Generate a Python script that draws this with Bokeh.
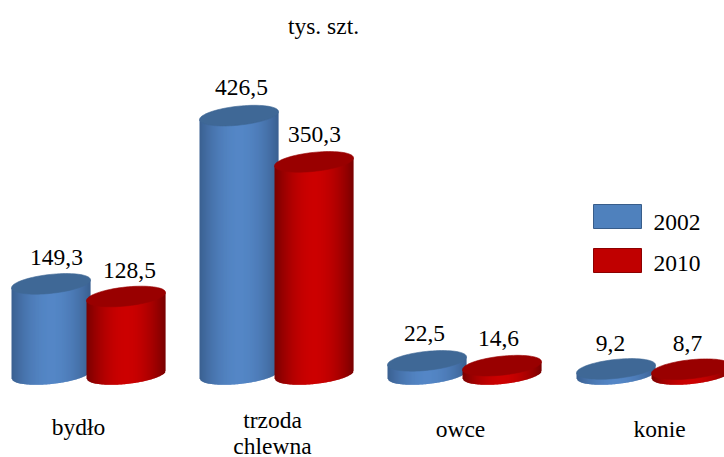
import numpy as np
from bokeh.plotting import figure
from bokeh.models import Range1d
from bokeh.core.properties import value
from bokeh.embed import file_html
from bokeh.resources import INLINE

categories = ["bydło", "trzoda\nchlewna", "owce", "konie"]
series_names = ["2002", "2010"]
values_2002 = [149.3, 426.5, 22.5, 9.2]
values_2010 = [128.5, 350.3, 14.6, 8.7]
value_labels_2002 = ["149,3", "426,5", "22,5", "9,2"]
value_labels_2010 = ["128,5", "350,3", "14,6", "8,7"]
unit_label = "tys. szt."

# layout, all in reference pixels
W, H = 724, 457
FONT = "Liberation Serif"
FS = "23.5px"
TEXT_DY = -8
BASE_PX = 374.0
K = 0.607              # pixels per unit
LEFT0 = [11, 199, 387, 576]
OFFS, BW = 75, 79
RX, RY, TILT = BW / 2, 9.5, np.deg2rad(5.8)
LABEL_CX = [[56, 129], [241, 314], [424, 498], [610, 687]]
LABEL_BASE_PX = [[264.5, 278], [95, 142], [340.5, 345.5], [351, 351]]
CAT_CX = [78, 272, 460, 659]
CAT_BASE_PX = [[434], [427, 453], [436], [436]]

def y_of(px):
    return (BASE_PX - px) / K

p = figure(width=W, height=H, output_backend="svg", toolbar_location=None,
           x_range=Range1d(0, W), y_range=Range1d(y_of(H), y_of(0)),
           min_border=0, outline_line_color=None)
p.axis.visible = False
p.grid.visible = False
p.background_fill_color = "white"
p.border_fill_color = "white"

PALETTE = {
    "2002": dict(edge=np.array([58, 96, 144]), mid=np.array([84, 134, 198]), top="#3F6896", swatch="#4F81BD", line="#385D8A"),
    "2010": dict(edge=np.array([120, 0, 0]), mid=np.array([204, 0, 0]), top="#990000", swatch="#C00000", line="#8C0000"),
}

def hexcol(c):
    return "#%02x%02x%02x" % tuple(int(round(v)) for v in c)

def ellipse_low(dx):
    """px offset (up positive) of the lower edge of the tilted ellipse at horizontal offset dx"""
    u = np.clip(dx / RX, -1, 1)
    return dx * np.tan(TILT) - RY * np.sqrt(1 - u * u)

def cylinder(x0, val, pal):
    cx = x0 + RX
    n = BW
    xs, ys, cols = [], [], []
    for i in range(n):
        a = -RX + i
        b = a + 1
        ov = 0.7 if i < n - 1 else 0   # overlap next strip so no seams show
        t = abs((a + b) / 2) / RX
        f = np.clip(t ** 1.9, 0, 1)
        cols.append(hexcol(pal["mid"] * (1 - f) + pal["edge"] * f))
        xs.append([cx + a, cx + b + ov, cx + b + ov, cx + a])
        ys.append([val + a * np.tan(TILT) / K, val + b * np.tan(TILT) / K,
                   ellipse_low(b) / K, ellipse_low(a) / K])
    p.patches(xs, ys, fill_color=cols, line_color=None)
    th = np.linspace(0, 2 * np.pi, 80)
    ex = cx + RX * np.cos(th)
    ey = val + (RX * np.cos(th) * np.tan(TILT) + RY * np.sin(th)) / K
    p.patch(ex, ey, fill_color=pal["top"], line_color=pal["top"], line_width=0.6)

for i in range(len(categories)):
    cylinder(LEFT0[i], values_2002[i], PALETTE["2002"])
    cylinder(LEFT0[i] + OFFS, values_2010[i], PALETTE["2010"])

def txt(x, basepx, s, align="center"):
    p.text([x], [y_of(basepx + TEXT_DY)], text=[s], text_font=value(FONT), text_font_size=FS,
           text_color="#000000", text_align=align, text_baseline="alphabetic")

for i in range(len(categories)):
    txt(LABEL_CX[i][0], LABEL_BASE_PX[i][0], value_labels_2002[i])
    txt(LABEL_CX[i][1], LABEL_BASE_PX[i][1], value_labels_2010[i])
    for line, bp in zip(categories[i].split("\n"), CAT_BASE_PX[i]):
        txt(CAT_CX[i], bp, line)

txt(323, 33, unit_label)

# legend
for name, top_px, base in zip(series_names, [204, 248], [230, 271]):
    pal = PALETTE[name]
    p.quad(left=[593], right=[641], top=[y_of(top_px)], bottom=[y_of(top_px + 24)],
           fill_color=pal["swatch"], line_color=pal["line"], line_width=1)
    txt(653, base, name, align="left")

open("out.html", "w").write(file_html(p, INLINE))
